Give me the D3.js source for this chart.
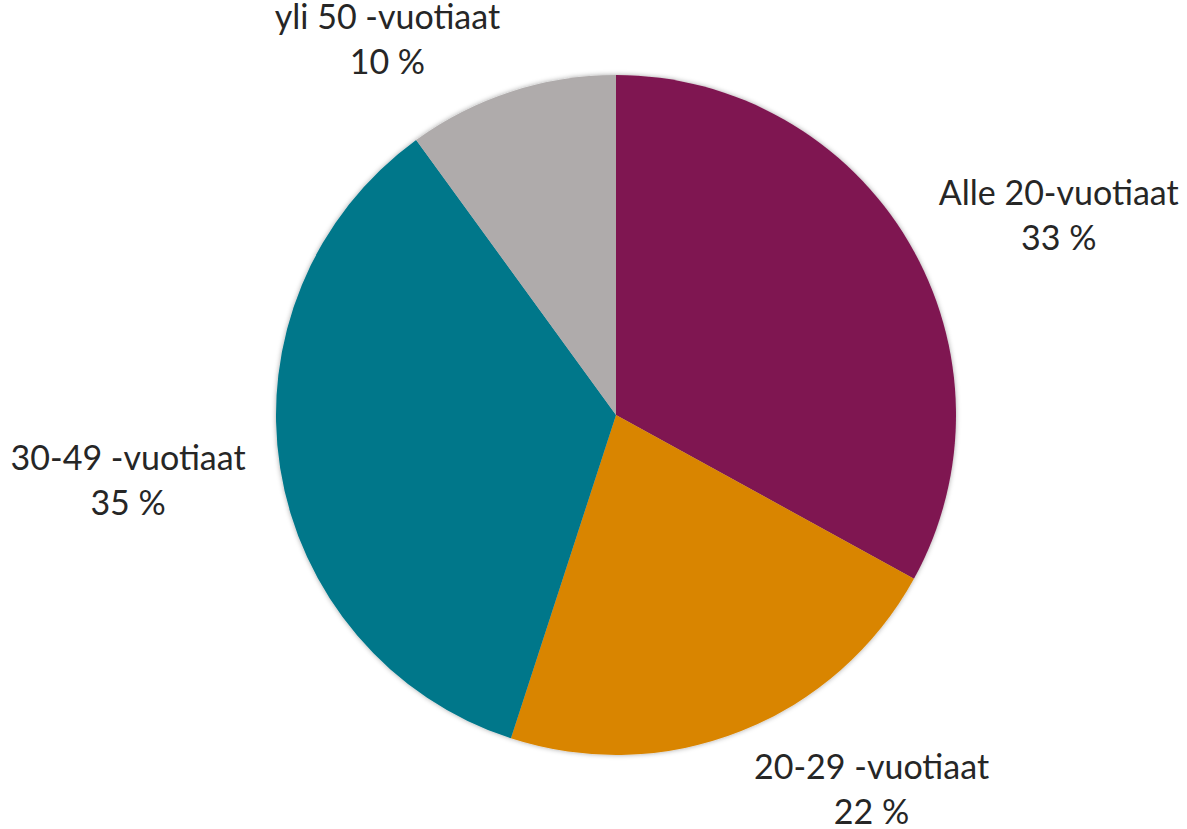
<!DOCTYPE html>
<html>
<head>
<meta charset="utf-8">
<script src="https://cdn.jsdelivr.net/npm/d3@7"></script>
<style>
  body { margin: 0; background: #fff; }
  text { font-family: "Source Sans Pro", Lato, "Open Sans", sans-serif; fill: #262626; }
</style>
</head>
<body>
<div id="chart"></div>
<script>
'use strict';

// age groups and their share (%)
let categories = ['Alle 20-vuotiaat', '20-29 -vuotiaat', '30-49 -vuotiaat', 'yli 50 -vuotiaat'];
let shares = [33, 22, 35, 10];
let colours = ['#7f1951', '#d98500', '#00778a', '#afabab'];

let width = 1187, height = 829;
let cx = 616, cy = 415, radius = 340;

let svg = d3.select('#chart').append('svg')
    .attr('width', width)
    .attr('height', height);

// faint shadow round the pie like the original
let defs = svg.append('defs');
defs.append('filter')
    .attr('id', 'shadow')
    .attr('x', '-10%').attr('y', '-10%')
    .attr('width', '120%').attr('height', '120%')
  .append('feDropShadow')
    .attr('dx', 0).attr('dy', 0)
    .attr('stdDeviation', 2.5)
    .attr('flood-color', '#000')
    .attr('flood-opacity', 0.35);

let data = categories.map(function(c, i) { return {name: c, value: shares[i]}; });

let pie = d3.pie()
    .value(function(d) { return d.value; })
    .sort(null);

let arc = d3.arc().innerRadius(0).outerRadius(radius);
let labelArc = d3.arc().innerRadius(375).outerRadius(375);

let g = svg.append('g')
    .attr('transform', 'translate(' + cx + ',' + cy + ')');

let arcs = pie(data);

g.append('g')
    .attr('filter', 'url(#shadow)')
  .selectAll('path')
  .data(arcs)
  .enter().append('path')
    .attr('d', arc)
    .attr('fill', function(d, i) { return colours[i]; });

let fontSize = 34, lineH = 45;

let labels = g.selectAll('text.label')
    .data(arcs)
    .enter().append('text')
    .attr('class', 'label')
    .attr('font-size', fontSize)
    .attr('text-anchor', 'middle');

labels.append('tspan')
    .attr('x', 0)
    .attr('y', 0)
    .text(function(d) { return d.data.name; });

labels.append('tspan')
    .attr('x', 0)
    .attr('y', lineH)
    .text(function(d) { return d.data.value + ' %'; });

// put the near edge of each label box on the label circle
labels.attr('transform', function(d) {
    let w = this.firstChild.getComputedTextLength();
    let p = labelArc.centroid(d);
    let mid = (d.startAngle + d.endAngle) / 2;
    let s = Math.sin(mid), c = Math.cos(mid);
    let x = p[0] + (s > 0 ? 1 : -1) * w / 2;
    let y = p[1] - c * 24 - 7;
    return 'translate(' + x + ',' + y + ')';
});
</script>
</body>
</html>
